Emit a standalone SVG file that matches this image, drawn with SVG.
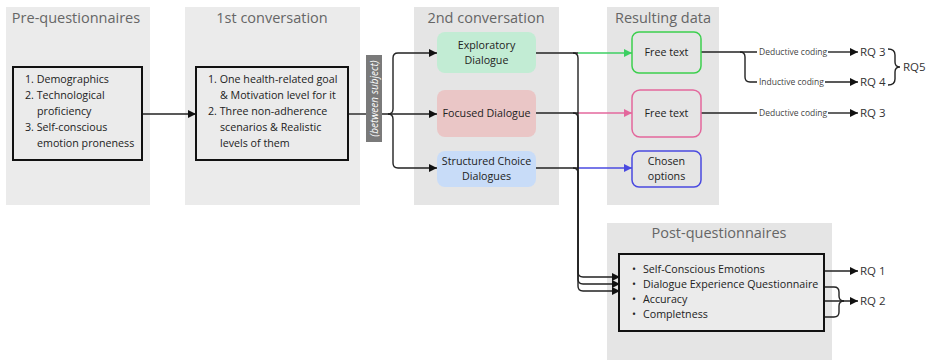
<svg xmlns="http://www.w3.org/2000/svg" width="926" height="360" viewBox="0 0 926 360">
  <defs>
    <style>
      .panel { fill: #ebebeb; }
      .panel2 { fill: #e5e5e5; }
      .title { font-family: "Open Sans", "Noto Sans", sans-serif; font-size: 14.5px; fill: #666; text-anchor: middle; }
      .body { font-family: "Open Sans", "Noto Sans", sans-serif; font-size: 10.7px; fill: #222; }
      .mid { text-anchor: middle; }
      .box { fill: #ebebeb; stroke: #111; stroke-width: 2; }
      .small { font-family: "Open Sans", "Noto Sans", sans-serif; font-size: 8.5px; fill: #444; }
      .rq { font-family: "Open Sans", "Noto Sans", sans-serif; font-size: 11.5px; fill: #333; }
      .ln { fill: none; stroke: #222; stroke-width: 1.4; }
      .arr { marker-end: url(#ah); }
    </style>
    <marker id="ah" viewBox="0 0 8 8" refX="8" refY="4" markerWidth="8" markerHeight="8" markerUnits="userSpaceOnUse" orient="auto">
      <path d="M0,0 L8,4 L0,8 z" fill="#111"/>
    </marker>
    <marker id="ahG" viewBox="0 0 8 8" refX="8" refY="4" markerWidth="8" markerHeight="8" markerUnits="userSpaceOnUse" orient="auto">
      <path d="M0,0 L8,4 L0,8 z" fill="#3ccf62"/>
    </marker>
    <marker id="ahP" viewBox="0 0 8 8" refX="8" refY="4" markerWidth="8" markerHeight="8" markerUnits="userSpaceOnUse" orient="auto">
      <path d="M0,0 L8,4 L0,8 z" fill="#e3679c"/>
    </marker>
    <marker id="ahB" viewBox="0 0 8 8" refX="8" refY="4" markerWidth="8" markerHeight="8" markerUnits="userSpaceOnUse" orient="auto">
      <path d="M0,0 L8,4 L0,8 z" fill="#4a4ae0"/>
    </marker>
  </defs>

  <rect width="926" height="360" fill="#ffffff"/>

  <!-- stage panels -->
  <g id="panels">
    <rect class="panel" x="6" y="7" width="144" height="198"/>
    <text class="title" x="76" y="23">Pre-questionnaires</text>
    <rect class="panel" x="185" y="7" width="175" height="198"/>
    <text class="title" x="272" y="23">1st conversation</text>
    <rect class="panel2" x="414" y="7" width="145" height="198"/>
    <text class="title" x="486" y="23">2nd conversation</text>
    <rect class="panel2" x="607" y="7" width="112" height="198"/>
    <text class="title" x="663" y="23">Resulting data</text>
    <rect class="panel2" x="607" y="223" width="225" height="137"/>
    <text class="title" x="719" y="238">Post-questionnaires</text>
  </g>

  <!-- connectors -->
  <g id="connectors">
    <path class="ln arr" d="M142,114 H196"/>
    <path class="ln" d="M348,114 H366"/>
    <path class="ln arr" d="M382,114 H437"/>
    <path class="ln arr" d="M388,114 Q393,114 393,109 V58 Q393,53 398,53 H437"/>
    <path class="ln arr" d="M388,114 Q393,114 393,119 V163 Q393,168 398,168 H437"/>

    <!-- dialogues to resulting data -->
    <path class="ln" d="M536,53 H578"/>
    <path fill="none" stroke="#3ccf62" stroke-width="1.4" marker-end="url(#ahG)" d="M578,53 H632"/>
    <path class="ln" d="M536,113 H578"/>
    <path fill="none" stroke="#e3679c" stroke-width="1.4" marker-end="url(#ahP)" d="M578,113 H632"/>
    <path class="ln" d="M536,168 H578"/>
    <path fill="none" stroke="#4a4ae0" stroke-width="1.4" marker-end="url(#ahB)" d="M578,168 H632"/>

    <!-- dialogues to post-questionnaires -->
    <path class="ln arr" d="M573,53 Q578,53 578,58 V272 Q578,277 583,277 H620"/>
    <path class="ln arr" d="M573,113 Q578,113 578,118 V279 Q578,284 583,284 H620"/>
    <path class="ln arr" d="M573,168 Q578,168 578,173 V286 Q578,291 583,291 H620"/>

    <!-- coding of free text -->
    <path class="ln" d="M701,52 H757"/>
    <path class="ln" d="M740,52 Q745,52 745,57 V77 Q745,82 750,82 H757"/>
    <path class="ln arr" d="M828,52 H858"/>
    <path class="ln arr" d="M825,82 H858"/>
    <path class="ln" d="M701,113 H757"/>
    <path class="ln arr" d="M828,113 H858"/>

    <!-- brace grouping RQ 3 and RQ 4 -->
    <path class="ln" d="M888,49 Q895,49 895,55 V62 Q895,67 900,67 Q895,67 895,72 V79 Q895,85 888,85"/>

    <!-- post-questionnaire items to research questions -->
    <path class="ln arr" d="M769,271 H858"/>
    <path class="ln" d="M822,287 H834 Q839,287 839,292 V296 Q839,301 844,301"/>
    <path class="ln" d="M711,317 H834 Q839,317 839,312 V306 Q839,301 844,301"/>
    <path class="ln arr" d="M688,301 H858"/>
  </g>

  <g id="pre-questionnaires">
    <rect class="box" x="13" y="67" width="129" height="93"/>
    <text class="body" x="25" y="83">1. Demographics</text>
    <text class="body" x="25" y="99">2. Technological</text>
    <text class="body" x="37" y="115">proficiency</text>
    <text class="body" x="25" y="131">3. Self-conscious</text>
    <text class="body" x="37" y="147">emotion proneness</text>
  </g>

  <g id="first-conversation">
    <rect class="box" x="196" y="67" width="152" height="93"/>
    <text class="body" x="208" y="83">1. One health-related goal</text>
    <text class="body" x="220" y="99">&amp; Motivation level for it</text>
    <text class="body" x="208" y="115">2. Three non-adherence</text>
    <text class="body" x="220" y="131">scenarios &amp; Realistic</text>
    <text class="body" x="220" y="147">levels of them</text>
  </g>

  <g id="between-subject">
    <rect x="366" y="55" width="16" height="87" fill="#7a7a7a"/>
    <text x="0" y="0" transform="translate(377.5,98.5) rotate(-90)" font-family="'Open Sans', 'Noto Sans', sans-serif" font-size="10px" font-style="italic" fill="#ffffff" text-anchor="middle">(between subject)</text>
  </g>

  <g id="exploratory-dialogue">
    <rect x="437" y="32" width="99" height="41" rx="8" fill="#c2ecd4"/>
    <text class="body mid" x="486.5" y="49">Exploratory</text>
    <text class="body mid" x="486.5" y="64">Dialogue</text>
  </g>

  <g id="focused-dialogue">
    <rect x="437" y="90" width="99" height="47" rx="8" fill="#eac6c6"/>
    <text class="body mid" x="486.5" y="117">Focused Dialogue</text>
  </g>

  <g id="structured-dialogues">
    <rect x="437" y="151" width="99" height="36" rx="8" fill="#c8dcf8"/>
    <text class="body mid" x="486.5" y="165">Structured Choice</text>
    <text class="body mid" x="486.5" y="180">Dialogues</text>
  </g>

  <g id="free-text-exploratory">
    <rect x="632" y="32" width="69" height="41" rx="7" fill="none" stroke="#3ccf4e" stroke-width="1.5"/>
    <text class="body mid" x="666.5" y="56">Free text</text>
  </g>

  <g id="free-text-focused">
    <rect x="632" y="90" width="69" height="47" rx="8" fill="none" stroke="#e3679c" stroke-width="1.5"/>
    <text class="body mid" x="666.5" y="117">Free text</text>
  </g>

  <g id="chosen-options">
    <rect x="632" y="151" width="69" height="36" rx="7" fill="none" stroke="#4a4ae0" stroke-width="1.5"/>
    <text class="body mid" x="666.5" y="165">Chosen</text>
    <text class="body mid" x="666.5" y="180">options</text>
  </g>

  <g id="coding-labels">
    <text class="small" x="759" y="55">Deductive coding</text>
    <text class="small" x="759" y="85">Inductive coding</text>
    <text class="small" x="759" y="116">Deductive coding</text>
  </g>

  <g id="research-questions">
    <text class="rq" x="860" y="56">RQ 3</text>
    <text class="rq" x="860" y="86">RQ 4</text>
    <text class="rq" x="903" y="71">RQ5</text>
    <text class="rq" x="860" y="117">RQ 3</text>
    <text class="rq" x="860" y="275">RQ 1</text>
    <text class="rq" x="860" y="305">RQ 2</text>
  </g>

  <g id="post-questionnaires">
    <rect class="box" x="619" y="254" width="205" height="77"/>
    <text class="body" x="632" y="273" font-size="8px">•</text>
    <text class="body" x="643" y="273">Self-Conscious Emotions</text>
    <text class="body" x="632" y="288" font-size="8px">•</text>
    <text class="body" x="643" y="288">Dialogue Experience Questionnaire</text>
    <text class="body" x="632" y="303" font-size="8px">•</text>
    <text class="body" x="643" y="303">Accuracy</text>
    <text class="body" x="632" y="318" font-size="8px">•</text>
    <text class="body" x="643" y="318">Completness</text>
  </g>
</svg>
